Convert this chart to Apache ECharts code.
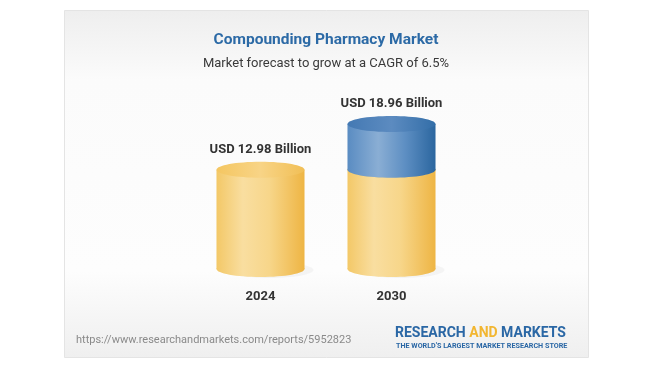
<!DOCTYPE html>
<html><head><meta charset="utf-8">
<script src="https://cdn.jsdelivr.net/npm/echarts@6/dist/echarts.min.js"></script>
<style>html,body{margin:0;padding:0;background:#fff}#c{width:652px;height:367px}</style>
</head><body><div id="c"></div>
<script>
const categories = ['2024', '2030'];
const values = [12.98, 18.96];
const valueLabels = ['USD 12.98 Billion', 'USD 18.96 Billion'];
const titleText = 'Compounding Pharmacy Market';
const subtitleText = 'Market forecast to grow at a CAGR of 6.5%';
const sourceText = 'https://www.researchandmarkets.com/reports/5952823';

const chart = echarts.init(document.getElementById('c'), null, {renderer: 'canvas'});
const F = 'Roboto, "Noto Sans", sans-serif';

function lg(stops){return new echarts.graphic.LinearGradient(0,0,1,0,stops.map((c,i)=>({offset:c[0],color:c[1]})));}
const yellowBody = lg([[0,'#f3c867'],[0.3,'#f9dea0'],[0.6,'#f7d68a'],[1,'#eeb544']]);
const yellowTop = lg([[0,'#f4c661'],[0.5,'#f8d486'],[1,'#f1bf56']]);
const blueBody = lg([[0,'#5a8cc2'],[0.35,'#8aaed4'],[0.65,'#5e8fc3'],[1,'#2b669f']]);
const blueTop = lg([[0,'#4479b3'],[0.5,'#5c8bc0'],[1,'#336ea8']]);

// segments: [categoryIndex, from, to, kind]
const segData = [
  [0, 0, values[0], 0],
  [1, 0, values[0], 0],
  [1, values[0], values[1], 1]
];

function renderItem(params, api){
  const ci = api.value(0), from = api.value(1), to = api.value(2), kind = api.value(3);
  const pTop = api.coord([ci, to]);
  const pBot = api.coord([ci, from]);
  const band = api.size([1, 0])[0];
  const w = band * 0.672;
  const rx = w / 2, ry = 8;
  const cx = pTop[0];
  const body = kind === 0 ? yellowBody : blueBody;
  const top = kind === 0 ? yellowTop : blueTop;
  const zb = kind * 10;
  const children = [];
  if (kind === 0) {
    children.push({type:'ellipse', shape:{cx:cx+9, cy:pBot[1]+1, rx:rx, ry:ry}, style:{fill:'rgba(0,0,0,0.035)'}, z2:0});
  }
  children.push({type:'ellipse', shape:{cx:cx, cy:pBot[1], rx:rx, ry:ry}, style:{fill:body}, z2:zb+1});
  children.push({type:'rect', shape:{x:cx-rx, y:pTop[1], width:w, height:pBot[1]-pTop[1]}, style:{fill:body}, z2:zb+1});
  children.push({type:'ellipse', shape:{cx:cx, cy:pTop[1], rx:rx, ry:ry}, style:{fill:top}, z2:zb+2});
  const isTop = (to === values[ci]);
  if (isTop) {
    children.push({type:'text', x:cx, y:pTop[1]-ry-12, style:{text:valueLabels[ci], fill:'#333', font:'bold 13px '+F, align:'center', verticalAlign:'middle'}, z2:30});
  }
  return {type:'group', children:children};
}

chart.setOption({
  animation:false,
  graphic:[
    {type:'rect', z:-10, shape:{x:64.5, y:10.5, width:524, height:347}, style:{
      fill:new echarts.graphic.LinearGradient(0,0,0,1,[{offset:0,color:'#eeeeee'},{offset:0.2,color:'#fbfbfb'},{offset:0.75,color:'#fdfdfd'},{offset:1,color:'#efefef'}]),
      stroke:'#e4e4e4', lineWidth:1}},
    {type:'text', left:'center', top:32, style:{text:titleText, fill:'#2c6aa6', font:'bold 15.5px '+F}},
    {type:'text', left:'center', top:57, style:{text:subtitleText, fill:'#3a3a3a', font:'13px '+F}},
    {type:'text', left:76, top:335, style:{text:sourceText, fill:'#8a8a8a', font:'11px '+F}},
    {type:'text', left:395, top:326, style:{
      text:'{a|RESEARCH }{b|AND}{a| MARKETS}',
      rich:{a:{fill:'#2a67a5', font:'bold 14px '+F}, b:{fill:'#f2b631', font:'bold 14px '+F}}}},
    {type:'text', left:396, top:343, style:{text:"THE WORLD'S LARGEST MARKET RESEARCH STORE", fill:'#2a67a5', font:'bold 7.2px '+F}}
  ],
  grid:{left:195, width:262, top:116, height:153},
  xAxis:{type:'category', data:categories, axisLine:{show:false}, axisTick:{show:false},
    axisLabel:{color:'#333', fontFamily:F, fontWeight:'bold', fontSize:13, margin:21}},
  yAxis:{type:'value', min:0, max:20, show:false, splitLine:{show:false}},
  series:[{type:'custom', renderItem:renderItem, data:segData, encode:{x:0, y:[1,2]}, clip:false}]
});
</script></body></html>
